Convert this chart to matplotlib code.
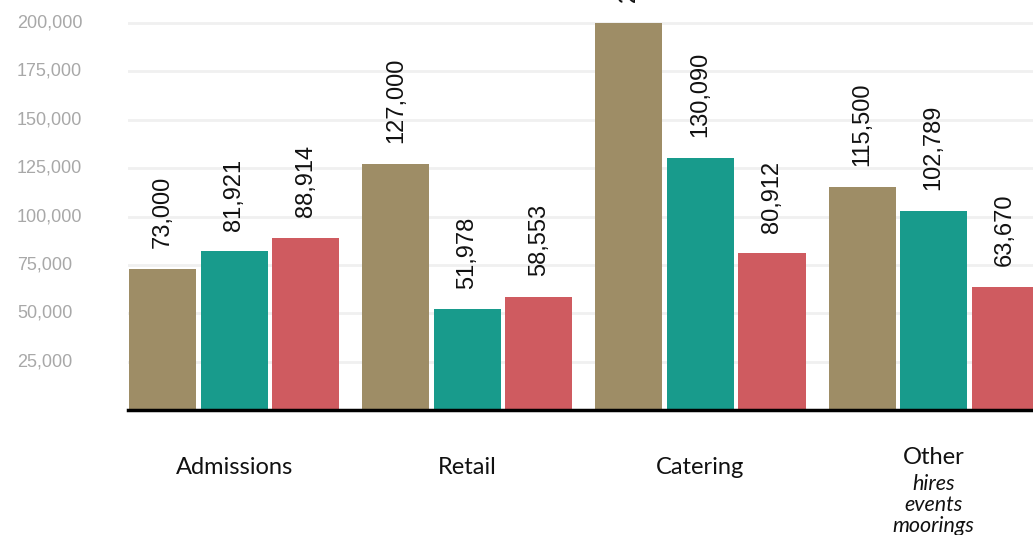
import matplotlib
matplotlib.use("Agg")
import matplotlib.pyplot as plt
import matplotlib.transforms as mtransforms
import numpy as np

categories = ["Admissions", "Retail", "Catering", "Other"]
sublabels = ["", "", "", "hires\nevents\nmoorings"]
series_a = [73000, 127000, 200000, 115500]
series_b = [81921, 51978, 130090, 102789]
series_c = [88914, 58553, 80912, 63670]
yticks = [25000, 50000, 75000, 100000, 125000, 150000, 175000, 200000]

colors = ["#9e8d66", "#189b8c", "#cf5b60"]

W, H = 1033, 535
fig = plt.figure(figsize=(W / 100, H / 100), dpi=100)
ax = fig.add_axes([128 / W, (H - 410) / H, 1 - 128 / W, 410 / H])

x = np.arange(len(categories))
pitch = 71.5 / 233
bw = 67 / 233
for i, (vals, c) in enumerate(zip([series_a, series_b, series_c], colors)):
    xs = x + (i - 1) * pitch
    ax.bar(xs, vals, width=bw, color=c, zorder=2)
    for xi, v in zip(xs, vals):
        ax.annotate(f"{v:,}", (xi, v), xytext=(0, 15), textcoords="offset points",
                    rotation=90, ha="center", va="bottom", fontsize=17,
                    family="Liberation Sans", color="#111111", annotation_clip=False)

ax.set_xlim(-0.457, 3.427)
ax.set_ylim(0, 200000 * 410 / 387)
for s in ax.spines.values():
    s.set_visible(False)
ax.set_xticks([])
ax.set_yticks(yticks)
ax.set_yticklabels([f"{t:,}" for t in yticks])
ax.tick_params(axis="y", length=0, pad=111 * 0.72, labelsize=13, labelcolor="#a8a8a8")
offset = mtransforms.ScaledTranslation(0, 2 / 100, fig.dpi_scale_trans)
for lab in ax.get_yticklabels():
    lab.set_horizontalalignment("left")
    lab.set_family("Liberation Sans")
    lab.set_transform(lab.get_transform() + offset)
ax.grid(axis="y", color="#f0f0f0", linewidth=2, zorder=0)
ax.axhline(0, color="#000000", linewidth=2.5, zorder=3, clip_on=False)

px = 0.72  # points per pixel at 100 dpi
for xi, cat, sub in zip(x, categories, sublabels):
    if sub:
        ax.annotate(cat, (xi, 0), xytext=(0, -47 * px), textcoords="offset points",
                    ha="center", va="center", fontsize=17, family="Lato",
                    color="#111111", annotation_clip=False)
        ax.annotate(sub, (xi, 0), xytext=(0, -64 * px), textcoords="offset points",
                    ha="center", va="top", fontsize=15.5, family="Lato", style="italic",
                    color="#111111", annotation_clip=False, linespacing=1.05)
    else:
        ax.annotate(cat, (xi, 0), xytext=(0, -57 * px), textcoords="offset points",
                    ha="center", va="center", fontsize=17, family="Lato",
                    color="#111111", annotation_clip=False)

fig.savefig("out.png", dpi=100)
